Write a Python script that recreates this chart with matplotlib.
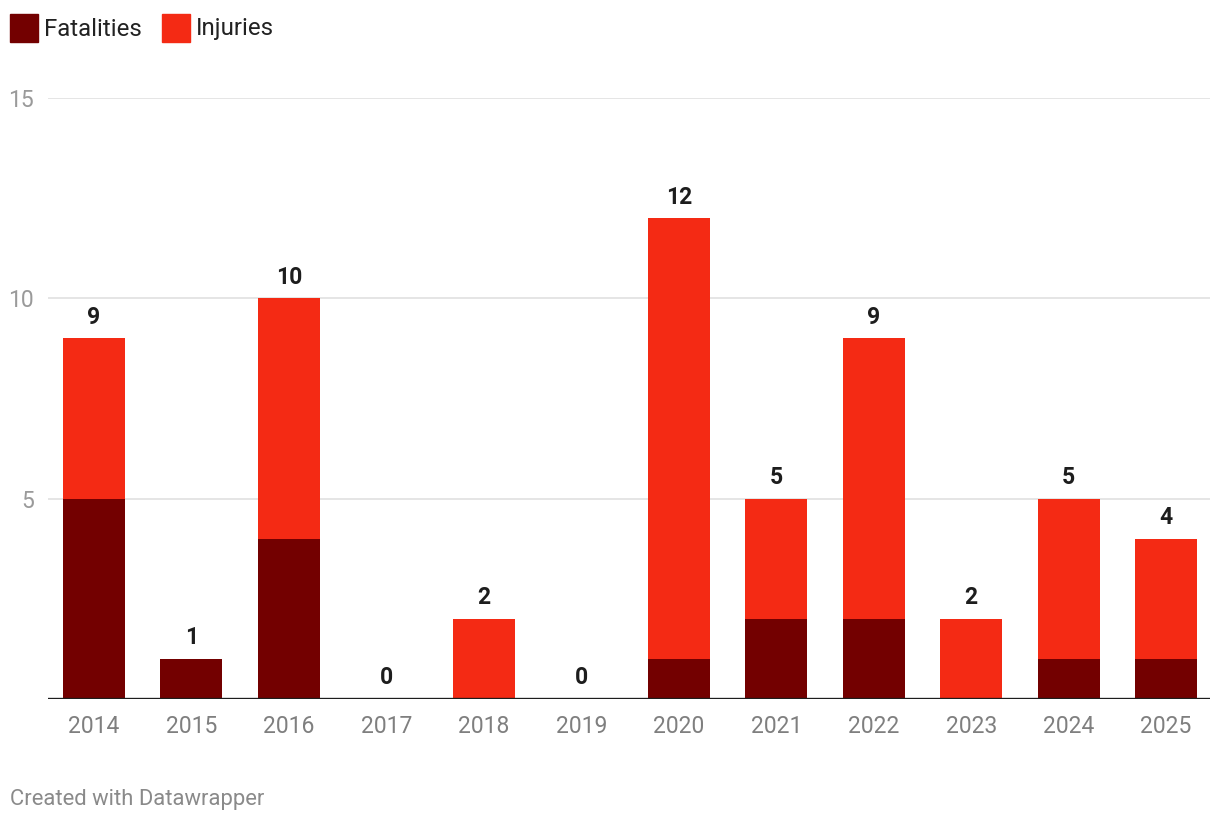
import matplotlib
matplotlib.use("Agg")
from matplotlib import pyplot as plt
from matplotlib.patches import Rectangle
import numpy as np

plt.rcParams['font.family'] = ['Roboto', 'DejaVu Sans']

years = ['2014', '2015', '2016', '2017', '2018', '2019',
         '2020', '2021', '2022', '2023', '2024', '2025']
fatalities = [5, 1, 4, 0, 0, 0, 1, 2, 2, 0, 1, 1]
injuries = [4, 0, 6, 0, 2, 0, 11, 3, 7, 2, 4, 3]
y_ticks = [5, 10, 15]

dark_red = '#730000'
red = '#f42a14'
grey_text = '#7f7f7f'

W, H = 1220, 822
fig = plt.figure(figsize=(W / 100, H / 100), dpi=100)
ax = fig.add_axes([48 / W, 1 - 699 / H, (1210 - 48) / W, (699 - 98) / H])

x = np.arange(len(years))
totals = [f + i for f, i in zip(fatalities, injuries)]
width = 0.636

ax.bar(x, fatalities, width, color=dark_red, zorder=3)
ax.bar(x, injuries, width, bottom=fatalities, color=red, zorder=3)

for xi, t in zip(x, totals):
    ax.text(xi, t + 0.24, str(t), ha='center', va='bottom', fontsize=16.5,
            fontweight='bold', color='#1d1d1d', zorder=4)

ax.set_xlim(-0.472, 11.45)
ax.set_ylim(0, 15)

# grid lines
for yt in y_ticks:
    ax.axhline(yt, color='#e3e3e3', lw=1.3, zorder=1)
ax.axhline(0, color='#1d1d1d', lw=2.4, zorder=5)

for s in ax.spines.values():
    s.set_visible(False)

ax.set_xticks(x)
ax.set_xticklabels(years, fontsize=16.5, color=grey_text)
ax.tick_params(axis='x', length=0, pad=11.5)
ax.set_yticks(y_ticks)
ax.set_yticklabels([str(v) for v in y_ticks], fontsize=16.5, color='#9a9a9a')
ax.tick_params(axis='y', length=0, pad=10)

# legend
fig.patches.append(Rectangle((10 / W, 1 - 42 / H), 28 / W, 28 / H,
                             transform=fig.transFigure, color=dark_red))
fig.text(44 / W, 1 - 29 / H, 'Fatalities', fontsize=17.3, color='#222222',
         va='center', ha='left')
fig.patches.append(Rectangle((162 / W, 1 - 42 / H), 28 / W, 28 / H,
                             transform=fig.transFigure, color=red))
fig.text(196 / W, 1 - 29 / H, 'Injuries', fontsize=17.3, color='#222222',
         va='center', ha='left')

fig.text(10 / W, 1 - 799 / H, 'Created with Datawrapper', fontsize=15.8,
         color='#8a8a8a', va='center', ha='left')

fig.savefig('out.png', dpi=100)
